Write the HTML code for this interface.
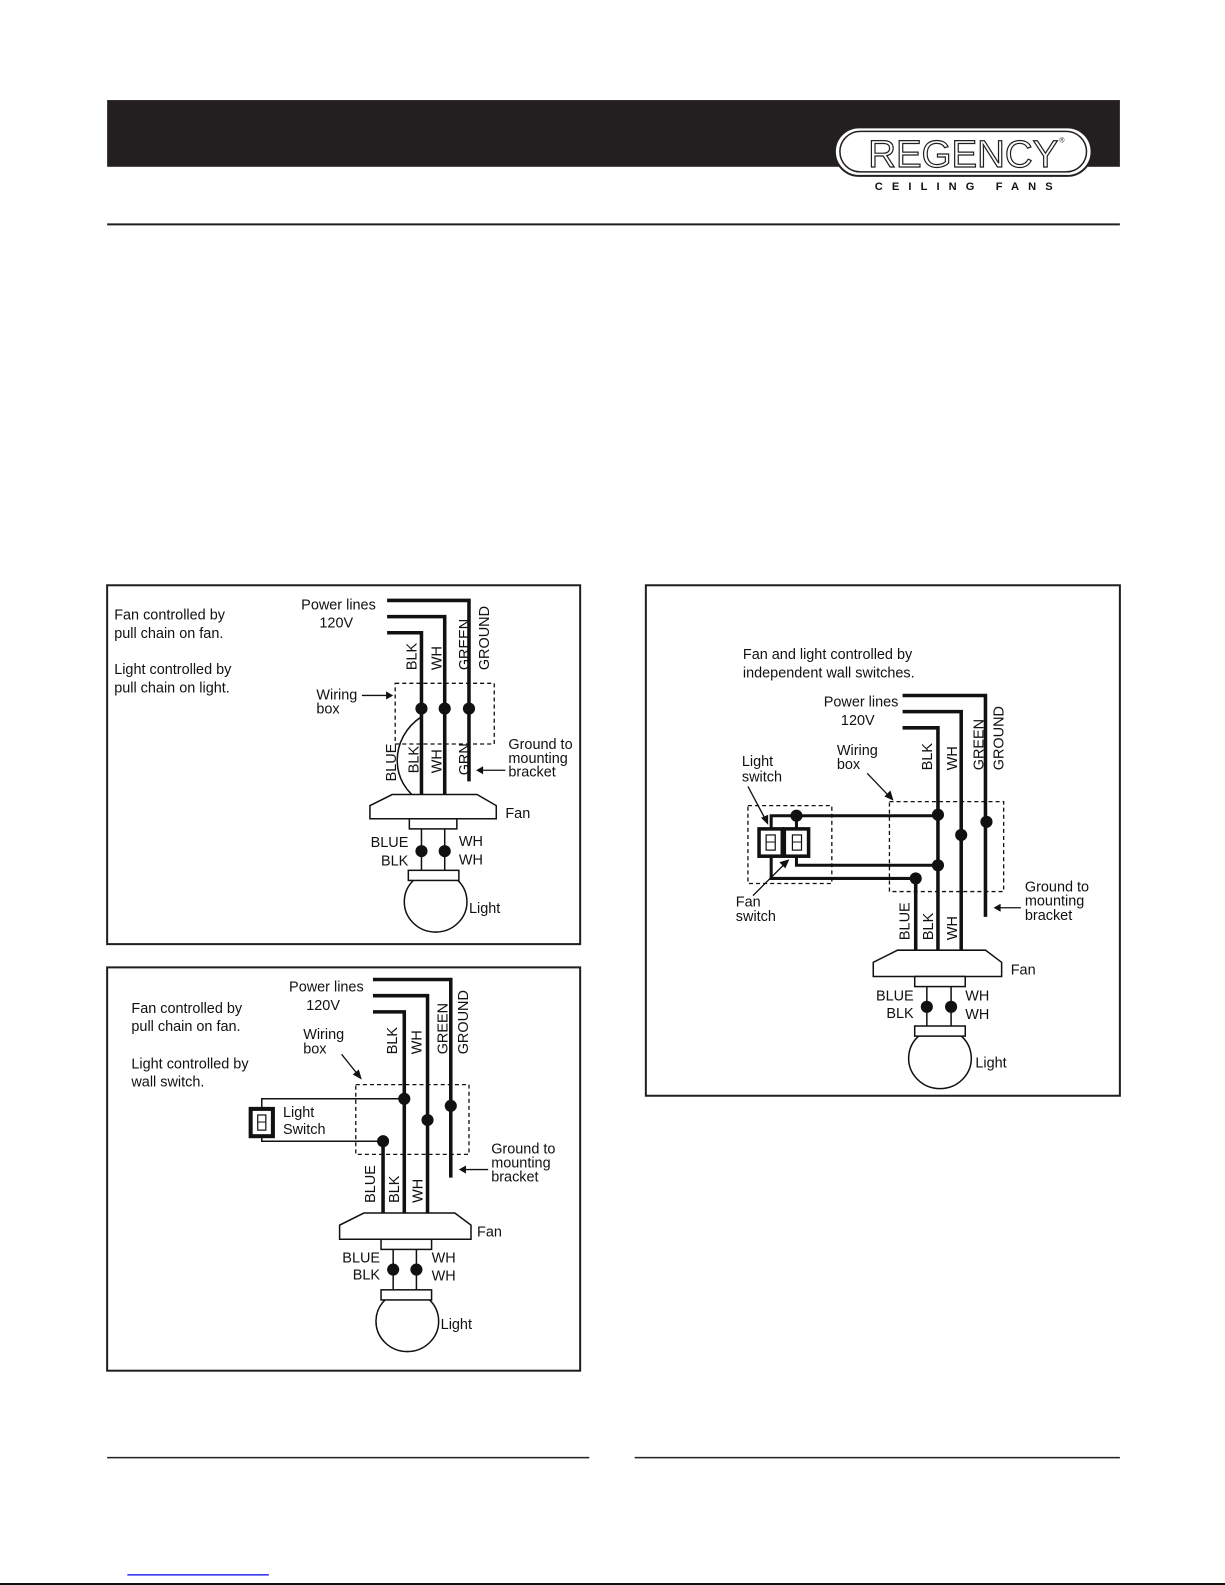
<!DOCTYPE html>
<html><head><meta charset="utf-8"><style>
html,body{margin:0;padding:0;background:#fff;}
svg{display:block;}
text{font-family:"Liberation Sans",Arial,sans-serif;font-size:14.3px;fill:#111;}
</style></head><body>
<svg width="1225" height="1585" viewBox="0 0 1212 1568" preserveAspectRatio="none" xmlns="http://www.w3.org/2000/svg">
<rect width="1212" height="1568" fill="#fff"/>
<!-- header -->
<rect x="106" y="99" width="1002" height="66" fill="#231f20"/>
<rect x="826" y="126" width="254" height="48" rx="24" fill="#fff" stroke="#231f20" stroke-width="2"/>
<rect x="831" y="130" width="244" height="40" rx="20" fill="none" stroke="#231f20" stroke-width="1.5"/>
<text x="953" y="165" text-anchor="middle" style="font-size:38px;font-weight:normal;fill:#fff;stroke:#231f20;stroke-width:1.2px" textLength="188" lengthAdjust="spacingAndGlyphs">REGENCY</text>
<text x="1048" y="141" style="font-size:7px">®</text>
<text x="958" y="188" text-anchor="middle" style="font-size:11px;font-weight:bold;letter-spacing:9px">CEILING FANS</text>
<line x1="106" y1="222" x2="1108" y2="222" stroke="#231f20" stroke-width="2"/>

<!-- ===== Diagram 1 ===== -->
<rect x="106" y="579" width="468" height="355" fill="none" stroke="#231f20" stroke-width="2"/>
<text x="113" y="613">Fan controlled by</text>
<text x="113" y="631">pull chain on fan.</text>
<text x="113" y="667">Light controlled by</text>
<text x="113" y="685">pull chain on light.</text>
<text x="298" y="603">Power lines</text>
<text x="316" y="621">120V</text>
<g fill="none" stroke="#111" stroke-width="3.5">
<polyline points="383,594 464,594 464,773"/>
<polyline points="383,610 440,610 440,794"/>
<polyline points="383,626 417,626 417,794"/>
</g>
<path d="M417,709 C385,730 385,775 417,793" fill="none" stroke="#111" stroke-width="1.5"/>
<g transform="rotate(-90)">
<text x="-663" y="412">BLK</text>
<text x="-663" y="437">WH</text>
<text x="-663" y="464">GREEN</text>
<text x="-663" y="484">GROUND</text>
<text x="-773" y="392">BLUE</text>
<text x="-765" y="414">BLK</text>
<text x="-765" y="437">WH</text>
<text x="-767" y="464">GRN</text>
</g>
<rect x="391" y="676" width="98" height="60" fill="none" stroke="#111" stroke-width="1.3" stroke-dasharray="4,3"/>
<g fill="#111"><circle cx="417" cy="701" r="6"/><circle cx="440" cy="701" r="6"/><circle cx="464" cy="701" r="6"/></g>
<text x="313" y="692">Wiring</text><text x="313" y="706">box</text>
<line x1="358" y1="688" x2="384" y2="688" stroke="#111" stroke-width="1.3"/><polygon points="389,688 382,684 382,692" fill="#111"/>
<text x="503" y="741">Ground to</text><text x="503" y="755">mounting</text><text x="503" y="768">bracket</text>
<line x1="500" y1="762" x2="476" y2="762" stroke="#111" stroke-width="1.3"/><polygon points="471,762 478,758 478,766" fill="#111"/>
<polygon points="388,786 472,786 491,797 491,810 366,810 366,797" fill="#fff" stroke="#111" stroke-width="1.5"/>
<text x="500" y="809">Fan</text>
<rect x="405" y="810" width="47" height="10" fill="#fff" stroke="#111" stroke-width="1.5"/>
<line x1="417" y1="820" x2="417" y2="861" stroke="#111" stroke-width="1.5"/>
<line x1="440" y1="820" x2="440" y2="861" stroke="#111" stroke-width="1.5"/>
<circle cx="417" cy="842" r="6" fill="#111"/><circle cx="440" cy="842" r="6" fill="#111"/>
<text x="404" y="838" text-anchor="end">BLUE</text><text x="404" y="856" text-anchor="end">BLK</text>
<text x="454" y="837">WH</text><text x="454" y="855">WH</text>
<path d="M410,870 A31,30 0 1,0 452,870" fill="#fff" stroke="#111" stroke-width="1.5"/>
<rect x="404" y="861" width="50" height="10" fill="#fff" stroke="#111" stroke-width="1.5"/>
<text x="464" y="903">Light</text>

<!-- ===== Diagram 2 ===== -->
<rect x="106" y="957" width="468" height="399" fill="none" stroke="#231f20" stroke-width="2"/>
<text x="130" y="1002">Fan controlled by</text>
<text x="130" y="1020">pull chain on fan.</text>
<text x="130" y="1057">Light controlled by</text>
<text x="130" y="1075">wall switch.</text>
<text x="286" y="981">Power lines</text>
<text x="303" y="999">120V</text>
<g fill="none" stroke="#111" stroke-width="3.5">
<polyline points="369,969 446,969 446,1165"/>
<polyline points="369,985 423,985 423,1200"/>
<polyline points="369,1001 400,1001 400,1200"/>
<line x1="379" y1="1129" x2="379" y2="1200"/>
</g>
<polyline points="400,1087 259,1087 259,1100" fill="none" stroke="#111" stroke-width="1.5"/>
<polyline points="379,1129 259,1129 259,1120" fill="none" stroke="#111" stroke-width="1.5"/>
<rect x="248" y="1097" width="22" height="27" fill="#fff" stroke="#111" stroke-width="4"/>
<rect x="255" y="1103" width="8" height="15" fill="none" stroke="#111" stroke-width="1.2"/>
<line x1="255" y1="1110" x2="263" y2="1110" stroke="#111" stroke-width="1"/>
<text x="280" y="1105">Light</text><text x="280" y="1122">Switch</text>
<g transform="rotate(-90)">
<text x="-1043" y="393">BLK</text>
<text x="-1043" y="417">WH</text>
<text x="-1043" y="443">GREEN</text>
<text x="-1043" y="463">GROUND</text>
<text x="-1190" y="371">BLUE</text>
<text x="-1190" y="395">BLK</text>
<text x="-1190" y="418">WH</text>
</g>
<rect x="352" y="1073" width="112" height="69" fill="none" stroke="#111" stroke-width="1.3" stroke-dasharray="4,3"/>
<g fill="#111"><circle cx="400" cy="1087" r="6"/><circle cx="423" cy="1108" r="6"/><circle cx="446" cy="1094" r="6"/><circle cx="379" cy="1129" r="6"/></g>
<text x="300" y="1028">Wiring</text><text x="300" y="1042">box</text>
<line x1="338" y1="1043" x2="354" y2="1063" stroke="#111" stroke-width="1.3"/><polygon points="358,1068 349,1063 355,1058" fill="#111"/>
<text x="486" y="1141">Ground to</text><text x="486" y="1155">mounting</text><text x="486" y="1169">bracket</text>
<line x1="483" y1="1157" x2="459" y2="1157" stroke="#111" stroke-width="1.3"/><polygon points="454,1157 461,1153 461,1161" fill="#111"/>
<polygon points="360,1200 450,1200 466,1212 466,1226 336,1226 336,1212" fill="#fff" stroke="#111" stroke-width="1.5"/>
<text x="472" y="1223">Fan</text>
<rect x="377" y="1226" width="50" height="10" fill="#fff" stroke="#111" stroke-width="1.5"/>
<line x1="389" y1="1236" x2="389" y2="1276" stroke="#111" stroke-width="1.5"/>
<line x1="412" y1="1236" x2="412" y2="1276" stroke="#111" stroke-width="1.5"/>
<circle cx="389" cy="1256" r="6" fill="#111"/><circle cx="412" cy="1256" r="6" fill="#111"/>
<text x="376" y="1249" text-anchor="end">BLUE</text><text x="376" y="1266" text-anchor="end">BLK</text>
<text x="427" y="1249">WH</text><text x="427" y="1267">WH</text>
<path d="M382,1285 A31,30 0 1,0 424,1285" fill="#fff" stroke="#111" stroke-width="1.5"/>
<rect x="377" y="1276" width="50" height="10" fill="#fff" stroke="#111" stroke-width="1.5"/>
<text x="436" y="1315">Light</text>

<!-- ===== Diagram 3 ===== -->
<rect x="639" y="579" width="469" height="505" fill="none" stroke="#231f20" stroke-width="2"/>
<text x="735" y="652">Fan and light controlled by</text>
<text x="735" y="670">independent wall switches.</text>
<text x="815" y="699">Power lines</text>
<text x="832" y="717">120V</text>
<g fill="none" stroke="#111" stroke-width="3.5">
<polyline points="893,688 975,688 975,907"/>
<polyline points="893,704 951,704 951,940"/>
<polyline points="893,720 928,720 928,940"/>
<line x1="906" y1="869" x2="906" y2="940"/>
</g>
<g fill="none" stroke="#111" stroke-width="3">
<polyline points="763,820 763,807 928,807"/>
<polyline points="788,820 788,807"/>
<polyline points="788,847 788,856 928,856"/>
<polyline points="763,847 763,869 906,869"/>
</g>
<rect x="751" y="820" width="23" height="27" fill="#fff" stroke="#111" stroke-width="3.5"/>
<rect x="776" y="820" width="24" height="27" fill="#fff" stroke="#111" stroke-width="3.5"/>
<rect x="758" y="826" width="9" height="15" fill="none" stroke="#111" stroke-width="1.2"/><line x1="758" y1="833" x2="767" y2="833" stroke="#111"/>
<rect x="784" y="826" width="9" height="15" fill="none" stroke="#111" stroke-width="1.2"/><line x1="784" y1="833" x2="793" y2="833" stroke="#111"/>
<rect x="740" y="797" width="83" height="77" fill="none" stroke="#111" stroke-width="1.3" stroke-dasharray="4,3"/>
<rect x="880" y="793" width="113" height="89" fill="none" stroke="#111" stroke-width="1.3" stroke-dasharray="4,3"/>
<g fill="#111"><circle cx="788" cy="807" r="6"/><circle cx="928" cy="806" r="6"/><circle cx="951" cy="826" r="6"/><circle cx="976" cy="813" r="6"/><circle cx="928" cy="856" r="6"/><circle cx="906" cy="869" r="6"/></g>
<g transform="rotate(-90)">
<text x="-762" y="922">BLK</text>
<text x="-762" y="947">WH</text>
<text x="-762" y="973">GREEN</text>
<text x="-762" y="993">GROUND</text>
<text x="-930" y="900">BLUE</text>
<text x="-930" y="923">BLK</text>
<text x="-930" y="947">WH</text>
</g>
<text x="828" y="747">Wiring</text><text x="828" y="761">box</text>
<line x1="858" y1="765" x2="880" y2="788" stroke="#111" stroke-width="1.3"/><polygon points="884,792 875,788 881,782" fill="#111"/>
<text x="734" y="758">Light</text><text x="734" y="773">switch</text>
<line x1="740" y1="778" x2="757" y2="810" stroke="#111" stroke-width="1.3"/><polygon points="760,816 753,809 760,806" fill="#111"/>
<text x="728" y="897">Fan</text><text x="728" y="911">switch</text>
<line x1="745" y1="886" x2="776" y2="855" stroke="#111" stroke-width="1.3"/><polygon points="781,850 777,859 771,853" fill="#111"/>
<text x="1014" y="882">Ground to</text><text x="1014" y="896">mounting</text><text x="1014" y="910">bracket</text>
<line x1="1010" y1="898" x2="988" y2="898" stroke="#111" stroke-width="1.3"/><polygon points="983,898 990,894 990,902" fill="#111"/>
<polygon points="888,940 975,940 991,952 991,966 864,966 864,952" fill="#fff" stroke="#111" stroke-width="1.5"/>
<text x="1000" y="964">Fan</text>
<rect x="905" y="966" width="50" height="10" fill="#fff" stroke="#111" stroke-width="1.5"/>
<line x1="917" y1="976" x2="917" y2="1015" stroke="#111" stroke-width="1.5"/>
<line x1="941" y1="976" x2="941" y2="1015" stroke="#111" stroke-width="1.5"/>
<circle cx="917" cy="996" r="6" fill="#111"/><circle cx="941" cy="996" r="6" fill="#111"/>
<text x="904" y="990" text-anchor="end">BLUE</text><text x="904" y="1007" text-anchor="end">BLK</text>
<text x="955" y="990">WH</text><text x="955" y="1008">WH</text>
<path d="M910,1024 A31,30 0 1,0 950,1024" fill="#fff" stroke="#111" stroke-width="1.5"/>
<rect x="905" y="1015" width="50" height="10" fill="#fff" stroke="#111" stroke-width="1.5"/>
<text x="965" y="1056">Light</text>

<!-- footer -->
<line x1="106" y1="1442" x2="583" y2="1442" stroke="#231f20" stroke-width="1.5"/>
<line x1="628" y1="1442" x2="1108" y2="1442" stroke="#231f20" stroke-width="1.5"/>
<line x1="126" y1="1558" x2="266" y2="1558" stroke="#0000ee" stroke-width="1.2"/>
<line x1="0" y1="1567" x2="1212" y2="1567" stroke="#111" stroke-width="2"/>
</svg>
</body></html>
